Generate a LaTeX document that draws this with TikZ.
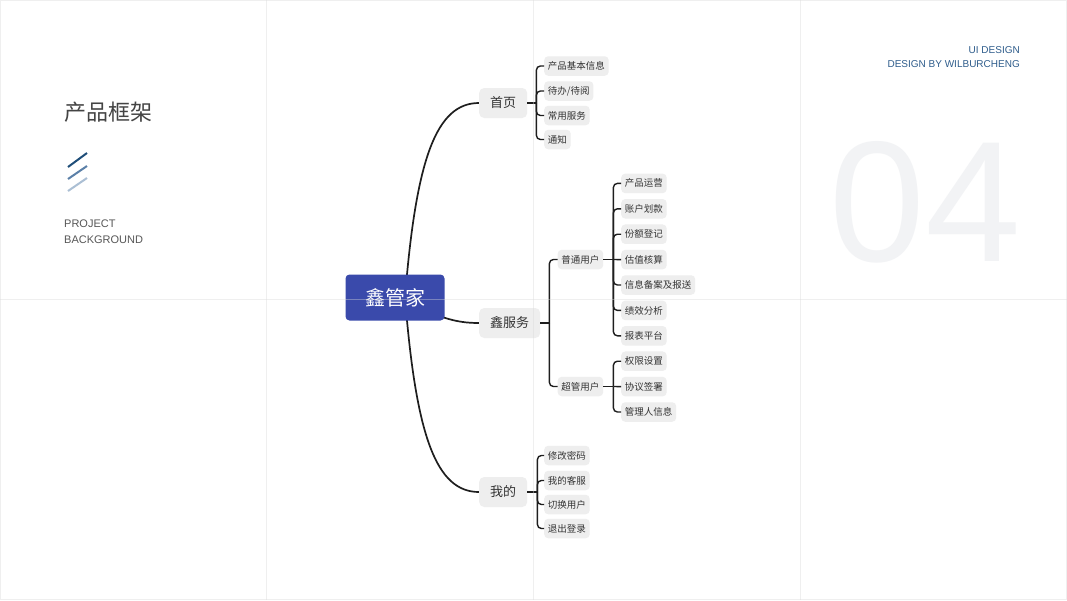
\documentclass[tikz,border=0pt]{standalone}
\usepackage{fontspec}
\setmainfont{Liberation Sans}
\newfontfamily\cjk{Noto Sans CJK SC}
\usetikzlibrary{positioning}

\definecolor{rootblue}{HTML}{3A4AAB}
\definecolor{boxgray}{HTML}{EEEEEE}
\definecolor{txtgray}{HTML}{333333}
\definecolor{titlegray}{HTML}{444444}
\definecolor{linecol}{HTML}{1E1E1E}
\definecolor{designblue}{HTML}{2F5D8C}
\definecolor{bignum}{HTML}{F2F3F5}
\definecolor{slashA}{HTML}{1F4E79}
\definecolor{slashB}{HTML}{5B80A8}
\definecolor{slashC}{HTML}{ABBFD4}

\pgfdeclarelayer{back}
\pgfdeclarelayer{links}
\pgfsetlayers{back,links,main}

\tikzstyle{root} = [rectangle, rounded corners=4pt, fill=rootblue, text=white, minimum width=99pt, minimum height=46pt, font=\cjk\fontsize{20}{24}\selectfont]
\tikzstyle{topic} = [rectangle, rounded corners=5pt, fill=boxgray, text=txtgray, minimum height=30pt, inner xsep=11pt, inner ysep=0pt, anchor=west, font=\cjk\fontsize{13}{15}\selectfont]
\tikzstyle{leaf} = [rectangle, rounded corners=4pt, fill=boxgray, text=txtgray, minimum height=19.5pt, inner xsep=3.75pt, inner ysep=0pt, anchor=west, font=\cjk\fontsize{9.5}{11}\selectfont]
\tikzstyle{trunk} = [line width=1.7pt, draw=linecol]
\tikzstyle{branch} = [line width=1.4pt, draw=linecol, rounded corners=4pt]
\tikzstyle{gridline} = [line width=1pt, draw=black!15, opacity=0.4]

\begin{document}
\begin{tikzpicture}[x=1pt, y=-1pt]
    % Fundo
    \begin{pgfonlayer}{back}
    \fill[white] (0,0) rectangle (1067,600);
    \end{pgfonlayer}
    \useasboundingbox (0,0) rectangle (1067,600);

    % Cabeçalho
    \node (title) [anchor=west, inner sep=0pt, text=titlegray, font=\cjk\fontsize{22}{26}\selectfont] at (64,112) {产品框架};
    \draw[slashA, line width=2pt] (68,167) -- (87,153);
    \draw[slashB, line width=2pt] (68,179) -- (87,166);
    \draw[slashC, line width=2pt] (68,191) -- (87,178);
    \node (proj) [anchor=west, inner sep=0pt, text=titlegray!90, font=\fontsize{11}{13}\selectfont] at (64,224) {PROJECT};
    \node (bg) [anchor=west, inner sep=0pt, text=titlegray!90, font=\fontsize{11}{13}\selectfont] at (64,240) {BACKGROUND};
    \node (ui) [anchor=east, inner sep=0pt, text=designblue, font=\fontsize{10}{12}\selectfont] at (1020,50) {UI DESIGN};
    \node (by) [anchor=east, inner sep=0pt, text=designblue, font=\fontsize{10}{12}\selectfont] at (1020,64) {DESIGN BY WILBURCHENG};
    \node (num) [anchor=base east, inner sep=0pt, text=bignum, font=\fontsize{172}{172}\selectfont] at (1021,261) {04};

    % Nós
    \node (root) [root] at (395,297.5) {鑫管家};

    \node (home) [topic] at (479,103) {首页};
    \node (svc) [topic] at (479,323) {鑫服务};
    \node (mine) [topic] at (479,492) {我的};

    \node (h1) [leaf] at (544,66) {产品基本信息};
    \node (h2) [leaf] at (544,91) {待办/待阅};
    \node (h3) [leaf] at (544,115.5) {常用服务};
    \node (h4) [leaf] at (544,139.5) {通知};

    \node (normal) [leaf] at (557.5,259.5) {普通用户};
    \node (admin) [leaf] at (557.5,386.5) {超管用户};

    \node (n1) [leaf] at (621,183.4) {产品运营};
    \node (n2) [leaf] at (621,208.8) {账户划款};
    \node (n3) [leaf] at (621,234.2) {份额登记};
    \node (n4) [leaf] at (621,259.6) {估值核算};
    \node (n5) [leaf] at (621,285.0) {信息备案及报送};
    \node (n6) [leaf] at (621,310.4) {绩效分析};
    \node (n7) [leaf] at (621,335.8) {报表平台};
    \node (a1) [leaf] at (621,361.2) {权限设置};
    \node (a2) [leaf] at (621,386.6) {协议签署};
    \node (a3) [leaf] at (621,412.0) {管理人信息};

    \node (m1) [leaf] at (544,455.5) {修改密码};
    \node (m2) [leaf] at (544,480.5) {我的客服};
    \node (m3) [leaf] at (544,504.5) {切换用户};
    \node (m4) [leaf] at (544,528.5) {退出登录};

    % Conexões
    \begin{pgfonlayer}{links}
    \draw[trunk] ([xshift=10pt]root.center) .. controls +(11,-138) and +(-43,0) .. (home.west);
    \draw[trunk] (root.center) .. controls +(45,20) and +(-25,0) .. (svc.west);
    \draw[trunk] ([xshift=10pt]root.center) .. controls +(11,138) and +(-43,0) .. (mine.west);
    \end{pgfonlayer}

    \draw[branch] (home.east) -- ++(9,0) coordinate (homeb);
    \draw[branch] (homeb) |- (h1.west);
    \draw[branch] (homeb) |- (h2.west);
    \draw[branch] (homeb) |- (h3.west);
    \draw[branch] (homeb) |- (h4.west);

    \draw[branch] (svc.east) -- ++(9,0) coordinate (svcb);
    \draw[branch] (svcb) |- (normal.west);
    \draw[branch] (svcb) |- (admin.west);

    \draw[branch] (normal.east) -- ++(10,0) coordinate (normalb);
    \draw[branch] (normalb) |- (n1.west);
    \draw[branch] (normalb) |- (n2.west);
    \draw[branch] (normalb) |- (n3.west);
    \draw[branch] (normalb) -- (n4.west);
    \draw[branch] (normalb) |- (n5.west);
    \draw[branch] (normalb) |- (n6.west);
    \draw[branch] (normalb) |- (n7.west);

    \draw[branch] (admin.east) -- ++(10,0) coordinate (adminb);
    \draw[branch] (adminb) |- (a1.west);
    \draw[branch] (adminb) -- (a2.west);
    \draw[branch] (adminb) |- (a3.west);

    \draw[branch] (mine.east) -- ++(10,0) coordinate (mineb);
    \draw[branch] (mineb) |- (m1.west);
    \draw[branch] (mineb) |- (m2.west);
    \draw[branch] (mineb) |- (m3.west);
    \draw[branch] (mineb) |- (m4.west);

    % Grade
    \draw[gridline] (266.5,0) -- (266.5,600);
    \draw[gridline] (533,0) -- (533,600);
    \draw[gridline] (800,0) -- (800,600);
    \draw[gridline] (0,299) -- (1067,299);
    \draw[gridline] (0.5,0.5) rectangle (1066.5,599.5);
\end{tikzpicture}
\end{document}
